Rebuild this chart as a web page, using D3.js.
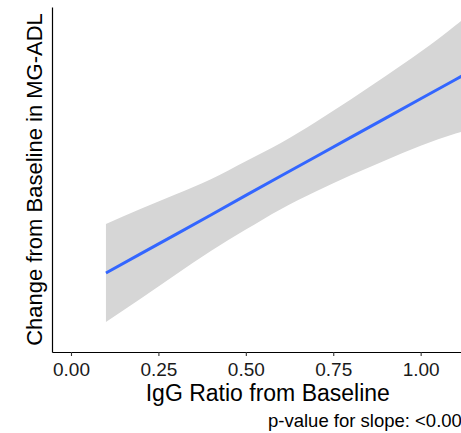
<!DOCTYPE html>
<html>
<head>
<meta charset="utf-8">
<script src="https://cdn.jsdelivr.net/npm/d3@7"></script>
<style>
  body { margin: 0; background: #fff; }
  svg { display: block; overflow: hidden; font-family: "Liberation Sans", Arial, sans-serif; }
</style>
</head>
<body>
<script>
// values (y units arbitrary: axis has no labels)
let xVals = [0.1, 0.2, 0.3, 0.4, 0.5, 0.6, 0.7, 0.8, 0.9, 1.0, 1.1, 1.13]
let fitVals = [2.29, 2.85, 3.41, 3.97, 4.54, 5.10, 5.66, 6.22, 6.78, 7.34, 7.90, 8.07]
let lowerVals = [0.87, 1.55, 2.25, 2.93, 3.55, 4.14, 4.65, 5.12, 5.56, 5.98, 6.33, 6.42]
let upperVals = [3.71, 4.15, 4.57, 5.01, 5.53, 6.06, 6.67, 7.32, 8.00, 8.70, 9.47, 9.72]
let xTicks = [0, 0.25, 0.5, 0.75, 1.0]
let xTitle = "IgG Ratio from Baseline"
let yTitle = "Change from Baseline in MG-ADL"
let caption = "p-value for slope: <0.0001"

let data = xVals.map((x, i) => ({x: x, fit: fitVals[i], lo: lowerVals[i], hi: upperVals[i]}))

let w = 461, h = 433
let svg = d3.select("body").append("svg")
    .attr("width", w)
    .attr("height", h)

let xScale = d3.scaleLinear()
    .domain([-0.0543, 1.18])
    .range([52, 483.6])
let yScale = d3.scaleLinear()
    .domain([0, 10])
    .range([352, 7])

let band = d3.area()
    .x(d => xScale(d.x))
    .y0(d => yScale(d.lo))
    .y1(d => yScale(d.hi))
    .curve(d3.curveMonotoneX)
let line = d3.line()
    .x(d => xScale(d.x))
    .y(d => yScale(d.fit))

svg.append("path")
    .datum(data)
    .attr("d", band)
    .attr("fill", "#d6d6d6")

svg.append("path")
    .datum(data)
    .attr("d", line)
    .attr("fill", "none")
    .attr("stroke", "#3366ff")
    .attr("stroke-width", 3)

let xAxis = d3.axisBottom(xScale)
    .tickValues(xTicks)
    .tickFormat(d3.format(".2f"))
    .tickSize(4)
    .tickSizeOuter(0)
    .tickPadding(7)
let gx = svg.append("g")
    .attr("transform", "translate(0," + yScale(0) + ")")
    .call(xAxis)
gx.select(".domain").attr("stroke", "#000").attr("stroke-width", 1.2)
gx.selectAll(".tick line").attr("stroke", "#333").attr("stroke-width", 1.1)
gx.selectAll(".tick text")
    .attr("font-size", 19)
    .attr("font-family", "Liberation Sans, Arial, sans-serif")
    .attr("fill", "#1a1a1a")

let gy = svg.append("g")
    .attr("transform", "translate(" + xScale.range()[0] + ",0)")
    .call(d3.axisLeft(yScale).tickValues([]).tickSizeOuter(0))
gy.select(".domain").attr("stroke", "#000").attr("stroke-width", 1.2)

svg.append("text")
    .attr("x", (xScale.range()[0] + xScale.range()[1]) / 2)
    .attr("y", 401)
    .attr("text-anchor", "middle")
    .attr("font-size", 23)
    .attr("fill", "#000")
    .text(xTitle)

svg.append("text")
    .attr("transform", "translate(42," + (yScale.range()[0] + yScale.range()[1]) / 2 + ") rotate(-90)")
    .attr("text-anchor", "middle")
    .attr("font-size", 22)
    .attr("fill", "#000")
    .text(yTitle)

svg.append("text")
    .attr("x", 268)
    .attr("y", 427)
    .attr("font-size", 18.5)
    .attr("fill", "#000")
    .text(caption)
</script>
</body>
</html>
